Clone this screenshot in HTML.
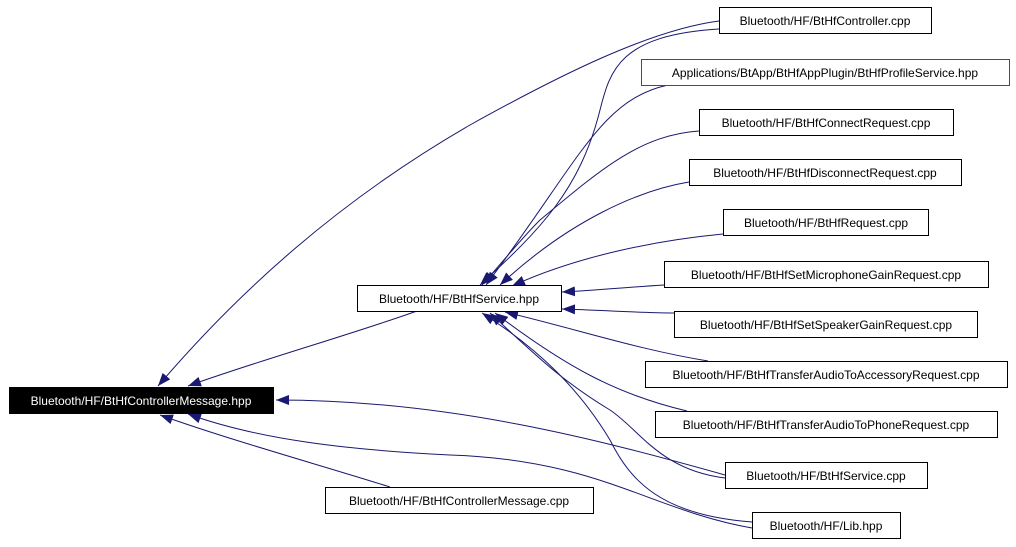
<!DOCTYPE html>
<html><head><style>
html,body{margin:0;padding:0;background:#fff;}
svg{display:block;}
text{font-family:"Liberation Sans",sans-serif;font-size:12px;}
</style></head><body>
<svg width="1016" height="547" xmlns="http://www.w3.org/2000/svg">
<defs>
<marker id="a" markerWidth="13" markerHeight="10" refX="13" refY="5" orient="auto" markerUnits="userSpaceOnUse"><path d="M0,0 L13,5 L0,10 z" fill="#191970"/></marker>
</defs>
<g fill="none" stroke="#191970" stroke-width="1" marker-end="url(#a)">
<path d="M719,21 C650,30 560,75 470,125 C340,200 240,290 158,386"/>
<path d="M417,311 C350,335 260,360 188,386"/>
<path d="M725,475 C600,440 450,400 276,400"/>
<path d="M752,528 C650,510 600,460 450,455 C350,450 260,440 188,414"/>
<path d="M390,487 C320,465 230,440 160,415"/>
<path d="M719,29 C620,35 610,70 600,110 C580,190 540,230 480,285"/>
<path d="M668,85 C600,100 580,160 486,285"/>
<path d="M699,131 C640,135 600,170 540,220 C520,240 500,265 482,285"/>
<path d="M689,182 C640,190 570,220 500,285"/>
<path d="M723,234 C660,240 580,255 512,286"/>
<path d="M664,285 C630,287 600,290 562,292"/>
<path d="M674,313 C640,313 600,310 562,309"/>
<path d="M708,361 C640,350 580,330 505,312"/>
<path d="M687,411 C620,395 570,370 495,313"/>
<path d="M725,478 C660,470 640,430 610,410 C560,380 530,350 490,313"/>
<path d="M752,522 C660,515 630,480 610,440 C580,390 540,350 482,313"/>
</g>
<g stroke-width="1">
<rect x="719.5" y="7.5" width="212" height="26" fill="#fff" stroke="#000"/>
<rect x="641.5" y="59.5" width="368" height="26" fill="#fff" stroke="#f00"/>
<rect x="699.5" y="109.5" width="254" height="26" fill="#fff" stroke="#000"/>
<rect x="689.5" y="159.5" width="272" height="26" fill="#fff" stroke="#000"/>
<rect x="723.5" y="209.5" width="205" height="26" fill="#fff" stroke="#000"/>
<rect x="664.5" y="261.5" width="324" height="26" fill="#fff" stroke="#000"/>
<rect x="674.5" y="311.5" width="303" height="26" fill="#fff" stroke="#000"/>
<rect x="645.5" y="361.5" width="362" height="26" fill="#fff" stroke="#000"/>
<rect x="655.5" y="411.5" width="342" height="26" fill="#fff" stroke="#000"/>
<rect x="725.5" y="462.5" width="202" height="26" fill="#fff" stroke="#000"/>
<rect x="752.5" y="512.5" width="148" height="26" fill="#fff" stroke="#000"/>
<rect x="357.5" y="285.5" width="204" height="26" fill="#fff" stroke="#000"/>
<rect x="9" y="387" width="265" height="27" fill="#000"/>
<rect x="325.5" y="487.5" width="268" height="26" fill="#fff" stroke="#000"/>
</g>
<g text-anchor="middle">
<text x="825" y="25">Bluetooth/HF/BtHfController.cpp</text>
<text x="825" y="77">Applications/BtApp/BtHfAppPlugin/BtHfProfileService.hpp</text>
<text x="826" y="127">Bluetooth/HF/BtHfConnectRequest.cpp</text>
<text x="825" y="177">Bluetooth/HF/BtHfDisconnectRequest.cpp</text>
<text x="826" y="227">Bluetooth/HF/BtHfRequest.cpp</text>
<text x="826" y="279">Bluetooth/HF/BtHfSetMicrophoneGainRequest.cpp</text>
<text x="826" y="329">Bluetooth/HF/BtHfSetSpeakerGainRequest.cpp</text>
<text x="826" y="379">Bluetooth/HF/BtHfTransferAudioToAccessoryRequest.cpp</text>
<text x="826" y="429">Bluetooth/HF/BtHfTransferAudioToPhoneRequest.cpp</text>
<text x="826" y="480">Bluetooth/HF/BtHfService.cpp</text>
<text x="826" y="530">Bluetooth/HF/Lib.hpp</text>
<text x="459" y="303">Bluetooth/HF/BtHfService.hpp</text>
<text x="141" y="405" fill="#fff">Bluetooth/HF/BtHfControllerMessage.hpp</text>
<text x="459" y="505">Bluetooth/HF/BtHfControllerMessage.cpp</text>
</g>
</svg>
</body></html>
